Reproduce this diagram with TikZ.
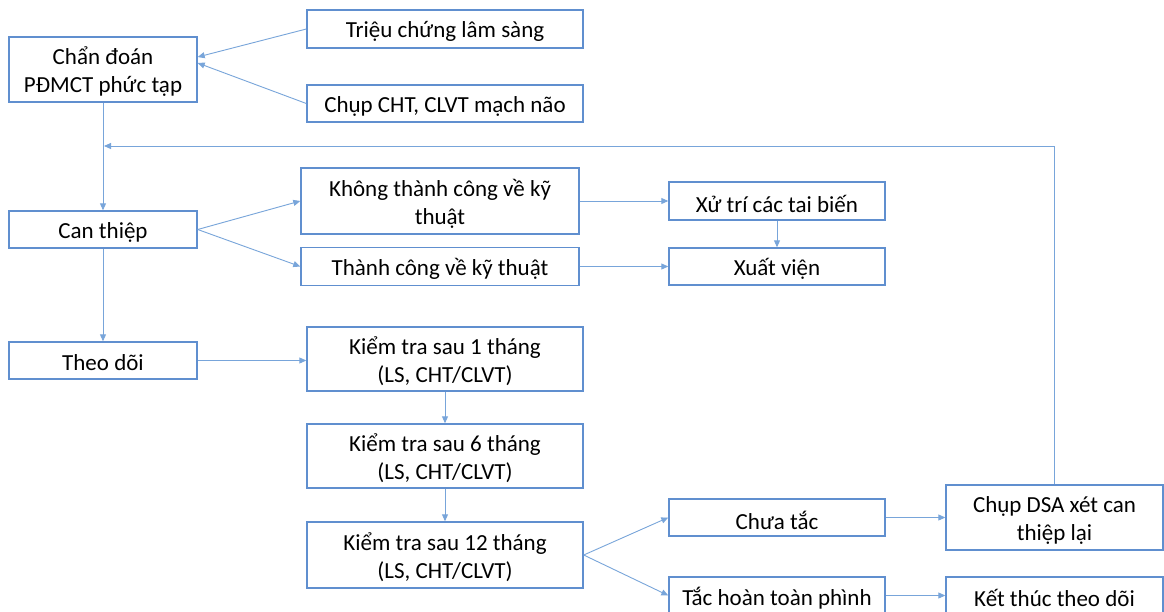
\documentclass[tikz,border=0pt]{standalone}
\usepackage{fontspec}
\setmainfont{Carlito}
\usetikzlibrary{arrows.meta,calc}
\definecolor{boxblue}{RGB}{96,143,207}
\definecolor{lineblue}{RGB}{120,165,218}
\tikzset{
  box/.style={draw=boxblue, line width=1.4pt, fill=white, rectangle, inner sep=0pt},
  txt/.style={align=center, font=\fontsize{23}{28}\selectfont, text=black, yshift=-2.5pt, inner sep=0pt},
  arr/.style={draw=lineblue, line width=0.9pt, -{Triangle[length=7pt,width=6pt]}},
}
\begin{document}
\begin{tikzpicture}[x=1pt,y=-1pt]
\useasboundingbox (0,0) rectangle (1164,611);
\fill[white] (0,0) rectangle (1164,611);
\node[box, minimum width=188pt, minimum height=65pt, label={[txt]center:{Chẩn đoán\\PĐMCT phức tạp}}] (diag) at (103,69.5) {};
\node[box, minimum width=276pt, minimum height=38pt, label={[txt]center:{Triệu chứng lâm sàng}}] (tri) at (445,29) {};
\node[box, minimum width=276pt, minimum height=37pt, label={[txt]center:{Chụp CHT, CLVT mạch não}}] (chup) at (445,103.5) {};
\node[box, minimum width=188pt, minimum height=37pt, label={[txt]center:{Can thiệp}}] (can) at (103,229.5) {};
\node[box, minimum width=278pt, minimum height=66pt, label={[txt]center:{Không thành công về kỹ\\thuật}}] (ktc) at (440,201) {};
\node[box, minimum width=278pt, minimum height=38pt, label={[txt]center:{Thành công về kỹ thuật}}] (tc) at (440,266.5) {};
\node[box, minimum width=216pt, minimum height=38pt, label={[txt]center:{Xử trí các tai biến}}] (xt) at (777,201) {};
\node[box, minimum width=216pt, minimum height=37pt, label={[txt]center:{Xuất viện}}] (xv) at (777,266.5) {};
\node[box, minimum width=188pt, minimum height=37pt, label={[txt]center:{Theo dõi}}] (theo) at (103,360.5) {};
\node[box, minimum width=276pt, minimum height=64pt, label={[txt]center:{Kiểm tra sau 1 tháng\\(LS, CHT/CLVT)}}] (k1) at (445,359) {};
\node[box, minimum width=276pt, minimum height=64pt, label={[txt]center:{Kiểm tra sau 6 tháng\\(LS, CHT/CLVT)}}] (k6) at (445,456) {};
\node[box, minimum width=276pt, minimum height=66pt, label={[txt]center:{Kiểm tra sau 12 tháng\\(LS, CHT/CLVT)}}] (k12) at (445,555) {};
\node[box, minimum width=216pt, minimum height=37pt, label={[txt]center:{Chưa tắc}}] (chua) at (777,517.5) {};
\node[box, minimum width=217pt, minimum height=65pt, label={[txt]center:{Chụp DSA xét can\\thiệp lại}}] (dsa) at (1054.5,517.5) {};
\node[box, minimum width=216pt, minimum height=37pt, label={[txt]center:{Tắc hoàn toàn phình}}] (tac) at (777,595.5) {};
\node[box, minimum width=217pt, minimum height=37pt, label={[txt]center:{Kết thúc theo dõi}}] (ket) at (1054.5,595.5) {};
\coordinate (fb) at (104,146);
% connectors
\draw[arr] (tri.west) -- ([yshift=12.5pt]diag.east);
\draw[arr] (chup.west) -- ([yshift=6.5pt]diag.east);
\draw[arr] (diag.south) -- (can.north);
\draw[arr] (dsa.north) |- (fb);
\draw[arr] (can.east) -- (ktc.west);
\draw[arr] (can.east) -- (tc.west);
\draw[arr] (ktc.east) -- (xt.west);
\draw[arr] (tc.east) -- (xv.west);
\draw[arr] (xt.south) -- (xv.north);
\draw[arr] (can.south) -- (theo.north);
\draw[arr] (theo.east) -- (theo.east -| k1.west);
\draw[arr] (k1.south) -- (k6.north);
\draw[arr] (k6.south) -- (k12.north);
\draw[arr] (k12.east) -- (chua.west);
\draw[arr] (k12.east) -- (tac.west);
\draw[arr] (chua.east) -- (dsa.west);
\draw[arr] (tac.east) -- (ket.west);
\end{tikzpicture}
\end{document}
